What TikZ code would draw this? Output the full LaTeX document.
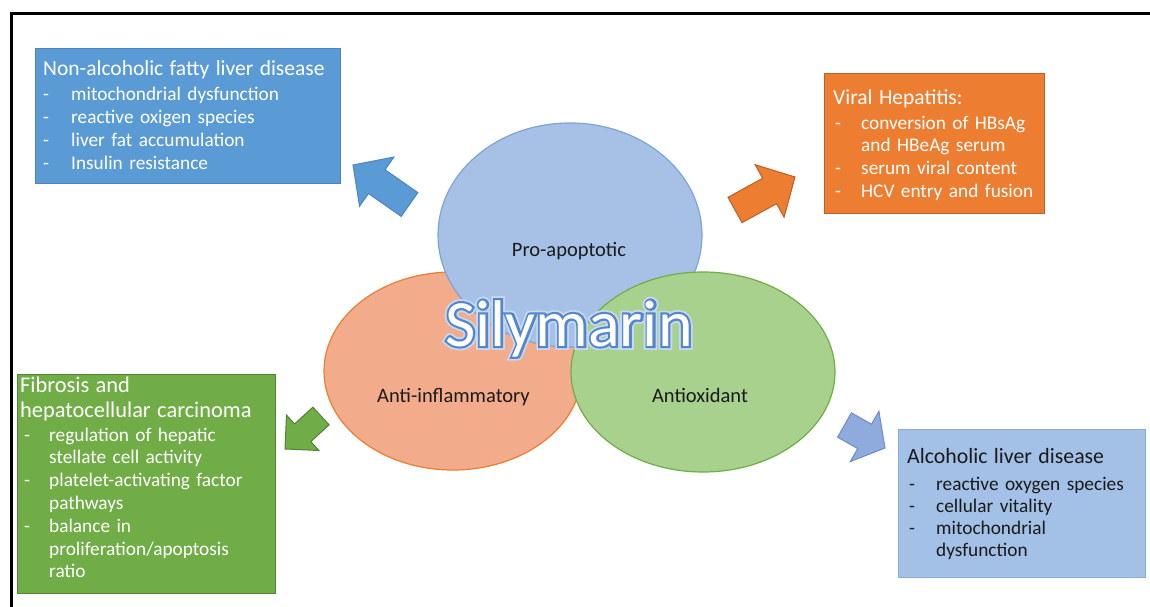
\documentclass[tikz,border=0pt]{standalone}
\usepackage{fontspec}
\setmainfont{Carlito}
\newfontfamily\silyedgefont[FakeBold=6.5]{Carlito}
\newfontfamily\silyglowfont[FakeBold=12]{Carlito}
\usetikzlibrary{calc,shapes.geometric}
\definecolor{nafldF}{HTML}{5B9BD5}
\definecolor{nafldD}{HTML}{4A86C2}
\definecolor{viralF}{HTML}{ED7D31}
\definecolor{viralD}{HTML}{B8612A}
\definecolor{fibF}{HTML}{70AD47}
\definecolor{fibD}{HTML}{548235}
\definecolor{aldF}{HTML}{A3C1E6}
\definecolor{aldD}{HTML}{86AEDD}
\definecolor{aldA}{HTML}{8FAADC}
\definecolor{aldAD}{HTML}{6C8DCB}
\definecolor{vennB}{HTML}{A6C1E5}
\definecolor{vennBD}{HTML}{7FA3D6}
\definecolor{vennO}{HTML}{F2AB8B}
\definecolor{vennOD}{HTML}{ED7D31}
\definecolor{vennG}{HTML}{A9D18E}
\definecolor{vennGD}{HTML}{70AD47}
\definecolor{silyEdge}{HTML}{5585CC}
\definecolor{silyGlow}{HTML}{C4D9F0}
\definecolor{darktext}{HTML}{1A1A1A}
\newcommand\ttl[2][21.5]{{\fontsize{#1}{25.4}\selectfont #2\par}}
\newcommand\itm[1]{\hangindent=\itmind\hangafter=1\noindent\hbox to \itmind{\hspace*{\dashoff}\textcolor{\dashc}{-}\hfill}#1\par}
\newcommand\cont[1]{\noindent\hspace*{\itmind}#1\par}
\newcommand\blockarrow[6]{%
  \coordinate (#1b) at ($(#2)!#5!(#1)$);
  \draw[#6] ($(#1)!#3!90:(#2)$) -- ($(#1b)!#3!90:(#2)$) -- ($(#1b)!#4!90:(#2)$) -- (#2)
    -- ($(#1b)!#4!-90:(#2)$) -- ($(#1b)!#3!-90:(#2)$) -- ($(#1)!#3!-90:(#2)$) -- cycle;}
\begin{document}
\begin{tikzpicture}[x=1pt,y=-1pt,
  panel/.style={anchor=north west, inner sep=0pt, line width=1.2pt},
  txt/.style={anchor=base west, inner sep=0pt, text width=400pt, align=left, font=\fontsize{19.3}{22.8}\selectfont},
  venn/.style={ellipse, inner sep=0pt, line width=1.2pt},
  vlabel/.style={anchor=base, inner sep=0pt, text=darktext, font=\fontsize{20.5}{24}\selectfont},
  sily/.style={anchor=base, inner sep=0pt, font=\fontsize{66}{70}\selectfont},
  barrow/.style={line width=1pt, line join=miter}]
\useasboundingbox (0,0) rectangle (1150,607);
\fill[white] (0,0) rectangle (1150,607);
\draw[line width=3pt] (11,607) -- (11,13.5) -- (1150,13.5);

% Venn ellipses
\node[venn, fill=vennO, draw=vennOD, minimum width=258pt, minimum height=198pt] (anti) at (453,371) {};
\node[venn, fill=vennB, draw=vennBD, minimum width=264pt, minimum height=224pt] (pro) at (570,235) {};
\node[venn, fill=vennG, draw=vennGD, minimum width=264pt, minimum height=200pt] (oxi) at (703,372) {};
\node[vlabel] (proL) at (569,256) {Pro-apoptotic};
\node[vlabel] (antiL) at (453.5,402) {Anti-inflammatory};
\node[vlabel] (oxiL) at (700,402) {Antioxidant};

% Silymarin title
\coordinate (sil) at (569,346);
\node[sily, text=silyGlow, font=\fontsize{66}{70}\silyglowfont] (silyG) at (sil) {Silymarin};
\node[sily, text=silyEdge, font=\fontsize{66}{70}\silyedgefont] (silyE) at (sil) {Silymarin};
\node[sily, text=white] (silyT) at (sil) {Silymarin};

% block arrows
\coordinate (a1t) at (409.5,204.5); \coordinate (a1p) at (353,165);
\coordinate (a2t) at (735,210);     \coordinate (a2p) at (795,177);
\coordinate (a3t) at (321,416);     \coordinate (a3p) at (285,449);
\coordinate (a4t) at (844.5,425);   \coordinate (a4p) at (885,448);
\blockarrow{a1t}{a1p}{14.5pt}{30pt}{29pt}{barrow, fill=nafldF, draw=nafldD}
\blockarrow{a2t}{a2p}{14.5pt}{30pt}{29pt}{barrow, fill=viralF, draw=viralD}
\blockarrow{a3t}{a3p}{12pt}{24pt}{24pt}{barrow, fill=fibF, draw=fibD}
\blockarrow{a4t}{a4p}{14pt}{29pt}{23.5pt}{barrow, fill=aldA, draw=aldAD}

% boxes
\node[panel, fill=nafldF, draw=nafldD, minimum width=305pt, minimum height=135pt] (nafld) at (35,48) {};
\node[panel, fill=viralF, draw=viralD, minimum width=220pt, minimum height=140pt] (viral) at (824,73) {};
\node[panel, fill=fibF, draw=fibD, minimum width=258pt, minimum height=219pt] (fib) at (17,374) {};
\node[panel, fill=aldF, draw=aldD, minimum width=247pt, minimum height=148pt] (ald) at (898,429) {};

\node[txt, text=white] (nafldT) at (43,76) {\def\itmind{28pt}\def\dashoff{0pt}\def\dashc{white}%
  \ttl{Non-alcoholic fatty liver disease}\vspace*{1.9pt}%
  \itm{mitochondrial dysfunction}\itm{reactive oxigen species}\itm{liver fat accumulation}\itm{Insulin resistance}};
\node[txt, text=white] (viralT) at (833,104.3) {\def\itmind{28pt}\def\dashoff{2pt}\def\dashc{white}%
  \ttl{Viral Hepatitis:}\vspace*{1.9pt}%
  \itm{conversion of HBsAg}\cont{and HBeAg serum}\itm{serum viral content}\itm{HCV entry and fusion}};
\node[txt, text=white] (fibT) at (20,392.3) {\def\itmind{29pt}\def\dashoff{4pt}\def\dashc{white}%
  \ttl[22.4]{Fibrosis and}\ttl[22.4]{hepatocellular carcinoma}\vspace*{0.5pt}%
  \itm{regulation of hepatic}\cont{stellate cell activity}\itm{platelet-activating factor}\cont{pathways}%
  \itm{balance in}\cont{proliferation/apoptosis}\cont{ratio}};
\node[txt, text=darktext] (aldT) at (907,463.3) {\fontsize{19.3}{22.2}\selectfont\def\itmind{29pt}\def\dashoff{2pt}\def\dashc{darktext}%
  \ttl[21.8]{Alcoholic liver disease}\vspace*{4.5pt}%
  \itm{reactive oxygen species}\itm{cellular vitality}\itm{mitochondrial}\cont{dysfunction}};
\end{tikzpicture}
\end{document}
